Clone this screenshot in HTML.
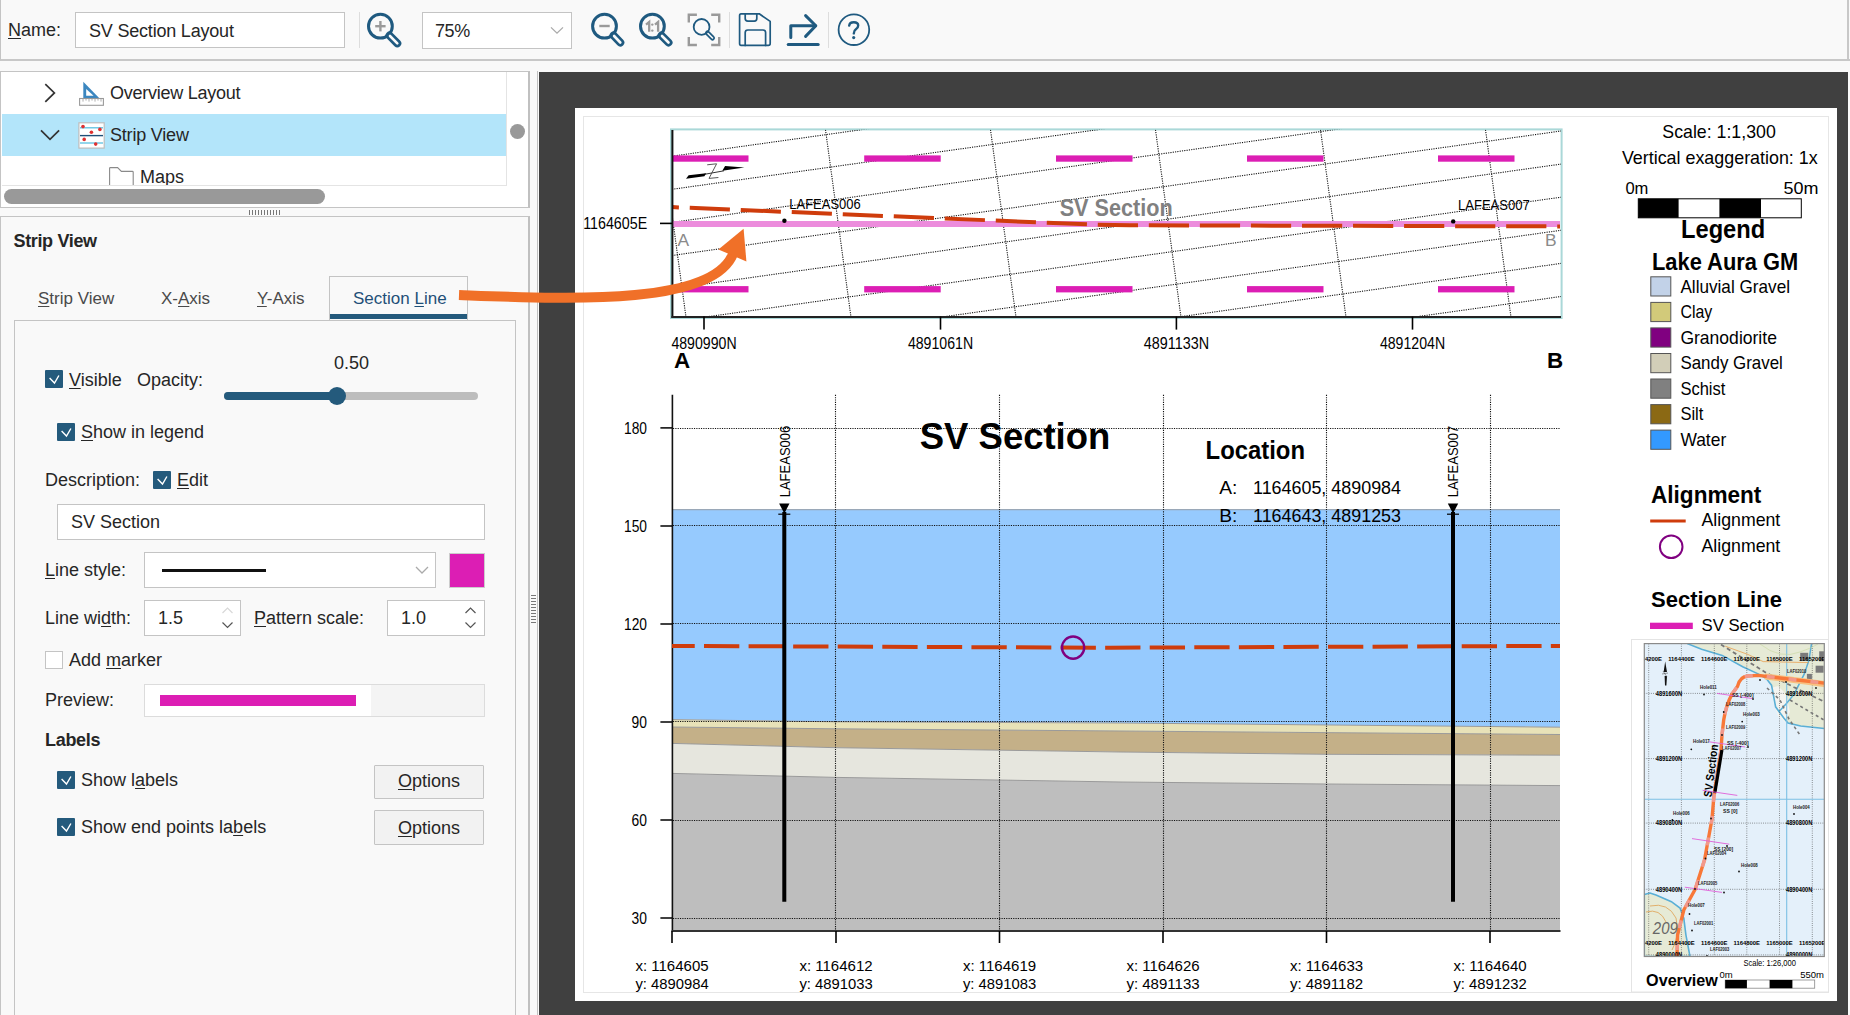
<!DOCTYPE html>
<html><head><meta charset="utf-8">
<style>
*{box-sizing:border-box;margin:0;padding:0}
html,body{width:1850px;height:1015px;overflow:hidden;background:#f9f9f9;font-family:"Liberation Sans",sans-serif;color:#262626}
.a{position:absolute}
.t{position:absolute;white-space:nowrap;font-size:18px;line-height:20px}
.u{text-decoration:underline;text-underline-offset:2px;text-decoration-thickness:1px}
.cb{position:absolute;width:18px;height:18px;background:#245a7c;border-radius:1px}
.cb svg{position:absolute;left:0;top:0}
.inp{position:absolute;background:#fff;border:1px solid #c4c4c4}
.btn{position:absolute;background:#f2f2f2;border:1px solid #c4c4c4;border-radius:1px}
</style></head><body>

<!-- toolbar -->
<div class="a" style="left:0;top:0;width:1850px;height:61px;background:#f9f9f9;border-left:1px solid #c4c4c4;border-bottom:2px solid #c8c8c8"></div>
<div class="a" style="left:1847px;top:0;width:2px;height:61px;background:#c8c8c8"></div>
<div class="t" style="left:8px;top:20px"><span class="u">N</span>ame:</div>
<div class="inp" style="left:75px;top:12px;width:270px;height:36px"></div>
<div class="t" style="left:89px;top:20.5px;letter-spacing:-0.2px">SV Section Layout</div>
<div class="a" style="left:359px;top:12px;width:1px;height:36px;background:#ddd"></div>
<div class="inp" style="left:422px;top:12px;width:150px;height:37px"></div>
<div class="t" style="left:435px;top:21px;letter-spacing:-0.4px">75%</div>
<div class="a" style="left:729px;top:12px;width:1px;height:36px;background:#ddd"></div>
<div class="a" style="left:828px;top:12px;width:1px;height:36px;background:#ddd"></div>


<svg class="a" style="left:0;top:0" width="900" height="60" viewBox="0 0 900 60">
 <g fill="none" stroke="#1f5a80" stroke-linecap="round">
  <!-- zoom in -->
  <circle cx="380.4" cy="26.2" r="11.9" stroke-width="3"/>
  <line x1="389.5" y1="35.5" x2="397.3" y2="43.3" stroke-width="8"/>
  <line x1="390" y1="36" x2="397.3" y2="43.3" stroke="#f9f9f9" stroke-width="2.6"/>
  <!-- zoom out -->
  <circle cx="604.5" cy="26.2" r="11.9" stroke-width="3"/>
  <line x1="613.6" y1="35.5" x2="620.3" y2="42.5" stroke-width="8"/>
  <line x1="614.1" y1="36" x2="620.3" y2="42.5" stroke="#f9f9f9" stroke-width="2.6"/>
  <!-- 1:1 -->
  <circle cx="652.4" cy="26.2" r="11.9" stroke-width="3"/>
  <line x1="661.5" y1="35.5" x2="668.5" y2="42.5" stroke-width="8"/>
  <line x1="662" y1="36" x2="668.5" y2="42.5" stroke="#f9f9f9" stroke-width="2.6"/>
  <!-- fit -->
  <circle cx="701.6" cy="26.9" r="7.9" stroke-width="1.8"/>
  <line x1="707.5" y1="33" x2="712.5" y2="38" stroke-width="5"/>
  <line x1="708" y1="33.5" x2="712.5" y2="38" stroke="#f9f9f9" stroke-width="1.6"/>
  <!-- save -->
  <path d="M741 13.8 H759.2 L770.2 21.4 V43.6 Q770.2 45.4 768.4 45.4 H741 Q739.6 45.4 739.6 43.6 V15.6 Q739.6 13.8 741 13.8 Z" stroke-width="1.7" stroke-linejoin="round"/>
  <path d="M745.2 13.8 V18.6 Q745.2 21.2 747.8 21.2 H754.4 Q756.8 21.2 756.8 18.6 V13.8" stroke-width="1.7"/>
  <path d="M745.2 45.4 V32.6 Q745.2 30 747.8 30 H763 Q765.6 30 765.6 32.6 V45.4" stroke-width="1.7"/>
  <!-- export -->
  <path d="M790.8 37.6 V25.8 H815.5" stroke-width="3" stroke-linejoin="round"/>
  <path d="M805.6 15.6 L815.8 25.8 L805.6 36.4" stroke-width="3" stroke-linejoin="round"/>
  <line x1="788.2" y1="44.5" x2="818.2" y2="44.5" stroke-width="3"/>
  <!-- help -->
  <circle cx="853.9" cy="29.7" r="15.3" stroke-width="1.8"/>
  <path d="M849.2 25.6 Q849.6 22.2 853.8 22.2 Q858.2 22.2 858.2 25.6 Q858.2 27.8 855.9 29.2 Q853.8 30.6 853.8 33.4" stroke-width="2.4"/>
  <circle cx="853.7" cy="37.6" r="1.6" fill="#1f5a80" stroke="none"/>
 </g>
 <g stroke="#9a9a9a" fill="none" stroke-width="2.4">
  <line x1="375.2" y1="26.2" x2="385.6" y2="26.2"/>
  <line x1="380.4" y1="21" x2="380.4" y2="31.4"/>
  <line x1="599.3" y1="26" x2="609.7" y2="26"/>
  <path d="M688.8 22.4 V14.8 H696.9 M711.2 14.8 H719.2 V22.4 M719.2 37 V45 H711.2 M696.9 45 H688.8 V37"/>
  <path d="M551 27.4 L557 33.2 L563 27.4" stroke="#aaa" stroke-width="1.3"/>
 </g>
 <path d="M646 24.6 L649.2 22 V31.8 M655 24.6 L658.1 22 V31.8" fill="none" stroke="#9a9a9a" stroke-width="2.3" stroke-linejoin="miter"/><circle cx="652.3" cy="24.6" r="1.2" fill="#9a9a9a"/><circle cx="652.3" cy="30.6" r="1.2" fill="#9a9a9a"/>
</svg>

<!-- tree panel -->
<div class="a" style="left:0;top:71px;width:530px;height:137px;background:#fff;border:1px solid #c4c4c4;border-right:2px solid #c0c0c0"></div>
<div class="a" style="left:2px;top:114px;width:504px;height:42px;background:#b3e5fa"></div>
<div class="a" style="left:506px;top:72px;width:1px;height:113px;background:#e4e4e4"></div>
<div class="a" style="left:2px;top:185px;width:505px;height:1px;background:#e4e4e4"></div>
<div class="a" style="left:510px;top:124px;width:15px;height:15px;border-radius:50%;background:#999"></div>
<div class="a" style="left:4px;top:189px;width:321px;height:15px;border-radius:8px;background:#999"></div>
<div class="t" style="left:110px;top:83px;letter-spacing:-0.25px">Overview Layout</div>
<div class="t" style="left:110px;top:125px;letter-spacing:-0.2px">Strip View</div>
<div class="t" style="left:140px;top:167px;height:18px;overflow:hidden">Maps</div>


<svg class="a" style="left:0;top:70px" width="140" height="120" viewBox="0 70 140 120">
 <path d="M45.3 84.1 L54.4 92.9 L45.3 101.9" fill="none" stroke="#333" stroke-width="1.7"/>
 <path d="M41 130.3 L50 139.4 L59.1 130.3" fill="none" stroke="#333" stroke-width="1.7"/>
 <path d="M83.3 81.8 L99.6 98.4 L83.3 98.4 Z" fill="#3b86bf"/>
 <path d="M86.2 89 L93.6 95.8 L86.2 95.8 Z" fill="#fff"/>
 <rect x="79.6" y="98.5" width="23.8" height="6.8" fill="#fff" stroke="#9a9a9a" stroke-width="1.1"/>
 <path d="M83 98.6 V101.6 M86 98.6 V100.6 M89 98.6 V101.6 M92 98.6 V100.6 M95 98.6 V101.6 M98 98.6 V100.6 M101 98.6 V101.6" stroke="#9a9a9a" stroke-width="0.8"/>
 <rect x="78.9" y="122.8" width="25.3" height="25.3" fill="#fff" stroke="#bdbdbd" stroke-width="1.2"/>
 <line x1="80" y1="127.8" x2="103" y2="127.8" stroke="#5bc0e0" stroke-width="1.3"/>
 <line x1="80" y1="135.6" x2="103" y2="135.6" stroke="#1f4f78" stroke-width="1.4"/>
 <line x1="80" y1="143" x2="103" y2="143" stroke="#5bc0e0" stroke-width="1.3"/>
 <g fill="#e03030"><circle cx="83" cy="126.6" r="1.8"/><circle cx="99.9" cy="129.4" r="1.8"/><circle cx="91.4" cy="132.2" r="1.8"/><circle cx="84.2" cy="139.4" r="1.8"/><circle cx="95.7" cy="144.1" r="1.8"/></g>
 <path d="M109.6 185 V168.3 Q109.6 167.6 110.3 167.6 H117.6 L121.4 171.4 H132.4 Q133.2 171.4 133.2 172.2 V185" fill="none" stroke="#8a8a8a" stroke-width="1.1"/>
</svg>
<div class="a" style="left:249px;top:210px;width:32px;height:5px;background:repeating-linear-gradient(90deg,#777 0 1px,transparent 1px 3px)"></div>

<!-- properties panel -->
<div class="a" style="left:0;top:216px;width:530px;height:810px;border:1px solid #c4c4c4;border-right:2px solid #c0c0c0"></div>
<div class="a" style="left:537px;top:71px;width:1px;height:944px;background:#c0c0c0"></div>
<div class="t" style="left:13.5px;top:231px;font-weight:bold;letter-spacing:-0.35px">Strip View</div>
<div class="a" style="left:14px;top:320px;width:502px;height:710px;border:1px solid #c4c4c4"></div>


<!-- tabs -->
<div class="a" style="left:329px;top:276px;width:139px;height:44px;border:1px solid #c4c4c4;border-bottom:none;background:#f9f9f9"></div>
<div class="a" style="left:330px;top:314px;width:137px;height:5px;background:#245a7c"></div>
<div class="t" style="left:38px;top:288.5px;color:#4a4a4a;font-size:17px"><span class="u">S</span>trip View</div>
<div class="t" style="left:161px;top:288.5px;color:#4a4a4a;font-size:17px">X-<span class="u">A</span>xis</div>
<div class="t" style="left:257px;top:288.5px;color:#4a4a4a;font-size:17px"><span class="u">Y</span>-Axis</div>
<div class="t" style="left:353px;top:288.5px;color:#1f5078;font-size:17px">Section <span class="u">L</span>ine</div>

<div class="t" style="left:334px;top:352.5px">0.50</div>
<div class="cb" style="left:45px;top:370px"><svg width="18" height="18"><path d="M4.6 7.9 L9.5 13 L13.9 5.5" fill="none" stroke="#fff" stroke-width="1.4"/></svg></div>
<div class="t" style="left:69px;top:369.5px"><span class="u">V</span>isible</div>
<div class="t" style="left:137px;top:369.5px">Opacity:</div>
<div class="a" style="left:224px;top:392px;width:254px;height:8px;border-radius:4px;background:#bdbdbd"></div>
<div class="a" style="left:224px;top:392px;width:114px;height:8px;border-radius:4px;background:#245a7c"></div>
<div class="a" style="left:328px;top:387px;width:18px;height:18px;border-radius:50%;background:#245a7c"></div>

<div class="cb" style="left:57px;top:423px"><svg width="18" height="18"><path d="M4.6 7.9 L9.5 13 L13.9 5.5" fill="none" stroke="#fff" stroke-width="1.4"/></svg></div>
<div class="t" style="left:81px;top:421.5px"><span class="u">S</span>how in legend</div>

<div class="t" style="left:45px;top:469.5px">Description:</div>
<div class="cb" style="left:153px;top:471px"><svg width="18" height="18"><path d="M4.6 7.9 L9.5 13 L13.9 5.5" fill="none" stroke="#fff" stroke-width="1.4"/></svg></div>
<div class="t" style="left:177px;top:469.5px"><span class="u">E</span>dit</div>
<div class="inp" style="left:57px;top:504px;width:428px;height:36px"></div>
<div class="t" style="left:71px;top:511.5px">SV Section</div>

<div class="t" style="left:45px;top:559.5px"><span class="u">L</span>ine style:</div>
<div class="inp" style="left:144px;top:552px;width:292px;height:36px"></div>
<div class="a" style="left:162px;top:569px;width:104px;height:3px;background:#111"></div>
<svg class="a" style="left:410px;top:560px" width="24" height="20"><path d="M6 7 L12 13 L18 7" fill="none" stroke="#aaa" stroke-width="1.3"/></svg>
<div class="a" style="left:449px;top:553px;width:36px;height:35px;background:#dc1eb4;border:1px solid #ccc"></div>

<div class="t" style="left:45px;top:607.5px">Line wi<span class="u">d</span>th:</div>
<div class="inp" style="left:144px;top:600px;width:97px;height:36px"></div>
<div class="t" style="left:158px;top:607.5px">1.5</div>
<svg class="a" style="left:218px;top:603px" width="20" height="30"><path d="M4.5 10 L9.5 5 L14.5 10" fill="none" stroke="#d8d8d8" stroke-width="1.2"/><path d="M4.5 19.5 L9.5 24.5 L14.5 19.5" fill="none" stroke="#555" stroke-width="1.2"/></svg>
<div class="t" style="left:254px;top:607.5px"><span class="u">P</span>attern scale:</div>
<div class="inp" style="left:387px;top:600px;width:98px;height:36px"></div>
<div class="t" style="left:401px;top:607.5px">1.0</div>
<svg class="a" style="left:461px;top:603px" width="20" height="30"><path d="M4.5 10 L9.5 5 L14.5 10" fill="none" stroke="#555" stroke-width="1.2"/><path d="M4.5 19.5 L9.5 24.5 L14.5 19.5" fill="none" stroke="#555" stroke-width="1.2"/></svg>

<div class="a" style="left:45px;top:651px;width:18px;height:18px;background:#fff;border:1px solid #c4c4c4"></div>
<div class="t" style="left:69px;top:649.5px">Add <span class="u">m</span>arker</div>

<div class="t" style="left:45px;top:689.5px">Preview:</div>
<div class="a" style="left:144px;top:684px;width:341px;height:33px;background:#f4f4f4;border:1px solid #dcdcdc"></div>
<div class="a" style="left:145px;top:685px;width:226px;height:31px;background:#fff"></div>
<div class="a" style="left:160px;top:695px;width:196px;height:11px;background:#dc1eb4"></div>

<div class="t" style="left:45px;top:729.5px;font-weight:bold;letter-spacing:-0.3px">Labels</div>
<div class="cb" style="left:57px;top:771px"><svg width="18" height="18"><path d="M4.6 7.9 L9.5 13 L13.9 5.5" fill="none" stroke="#fff" stroke-width="1.4"/></svg></div>
<div class="t" style="left:81px;top:769.5px">Show l<span class="u">a</span>bels</div>
<div class="btn" style="left:374px;top:765px;width:110px;height:34px"></div>
<div class="t" style="left:398px;top:770.5px"><span class="u">O</span>ptions</div>
<div class="cb" style="left:57px;top:818px"><svg width="18" height="18"><path d="M4.6 7.9 L9.5 13 L13.9 5.5" fill="none" stroke="#fff" stroke-width="1.4"/></svg></div>
<div class="t" style="left:81px;top:816.5px">Show end points la<span class="u">b</span>els</div>
<div class="btn" style="left:374px;top:810px;width:110px;height:35px"></div>
<div class="t" style="left:398px;top:817.5px"><span class="u">O</span>ptions</div>
<div class="a" style="left:531px;top:595px;width:5px;height:30px;background:repeating-linear-gradient(180deg,#777 0 1px,transparent 1px 3px)"></div>

<!-- dark area -->
<div class="a" style="left:539px;top:72px;width:1309px;height:943px;background:#404040"></div>
<div class="a" style="left:575px;top:108px;width:1262px;height:893px;background:#fff"></div>
<div class="a" style="left:583px;top:116px;width:1246px;height:877px;border:1px solid #e6e6e6"></div>

<!--LAYOUT-->
<svg class="a" style="left:0;top:0" width="1850" height="1015" viewBox="0 0 1850 1015" font-family="Liberation Sans">
<defs><clipPath id="mapclip"><rect x="672" y="129.7" width="889" height="187"/></clipPath><clipPath id="secclip"><rect x="672" y="394" width="888" height="537"/></clipPath></defs>
<rect x="671" y="129.4" width="890.6" height="188.6" fill="#fff" stroke="#aad8d8" stroke-width="2"/>
<g clip-path="url(#mapclip)" fill="none" stroke="#111" stroke-width="1.1" stroke-dasharray="1.15 1.18">
<line x1="672" y1="156.2" x2="1561" y2="31.7"/>
<line x1="672" y1="189.3" x2="1561" y2="64.8"/>
<line x1="672" y1="222.4" x2="1561" y2="97.9"/>
<line x1="672" y1="255.5" x2="1561" y2="131.0"/>
<line x1="672" y1="288.6" x2="1561" y2="164.1"/>
<line x1="672" y1="321.7" x2="1561" y2="197.2"/>
<line x1="672" y1="354.8" x2="1561" y2="230.3"/>
<line x1="672" y1="387.9" x2="1561" y2="263.4"/>
<line x1="672" y1="421.0" x2="1561" y2="296.5"/>
<line x1="660.5" y1="129.7" x2="685.9" y2="316.6"/>
<line x1="825.5" y1="129.7" x2="850.9" y2="316.6"/>
<line x1="990.5" y1="129.7" x2="1015.9" y2="316.6"/>
<line x1="1155.5" y1="129.7" x2="1180.9" y2="316.6"/>
<line x1="1320.5" y1="129.7" x2="1345.9" y2="316.6"/>
<line x1="1485.5" y1="129.7" x2="1510.9" y2="316.6"/>
</g>
<rect x="672" y="155.4" width="76.5" height="6.3" fill="#dc1eb4"/>
<rect x="864.2" y="155.4" width="76.5" height="6.3" fill="#dc1eb4"/>
<rect x="1056" y="155.4" width="76.5" height="6.3" fill="#dc1eb4"/>
<rect x="1247" y="155.4" width="76.5" height="6.3" fill="#dc1eb4"/>
<rect x="1438" y="155.4" width="76.5" height="6.3" fill="#dc1eb4"/>
<rect x="672" y="286.1" width="76.5" height="6.3" fill="#dc1eb4"/>
<rect x="864.2" y="286.1" width="76.5" height="6.3" fill="#dc1eb4"/>
<rect x="1056" y="286.1" width="76.5" height="6.3" fill="#dc1eb4"/>
<rect x="1247" y="286.1" width="76.5" height="6.3" fill="#dc1eb4"/>
<rect x="1438" y="286.1" width="76.5" height="6.3" fill="#dc1eb4"/>
<rect x="672" y="221" width="888" height="6" fill="#ec8cdc"/>
<path d="M672 207.1 L1090 224.5 Q1110 225.2 1130 225.3 L1560 226.4" fill="none" stroke="#cf3c0c" stroke-width="4" stroke-dasharray="40.2 10.85" stroke-dashoffset="33.3"/>
<line x1="672.4" y1="130" x2="672.4" y2="318" stroke="#111" stroke-width="2"/>
<line x1="671.4" y1="317" x2="1561" y2="317" stroke="#222" stroke-width="2"/>
<circle cx="784.4" cy="220.8" r="2.2" fill="#000"/><circle cx="1453.2" cy="221.4" r="2.2" fill="#000"/>
<path d="M686 178.7 L688.6 175.3 L706.2 173.2 L704.4 176.2 Z" fill="#000"/>
<path d="M722.3 170.7 L725.1 165.9 L744.4 167.5 Z" fill="#000"/>
<path d="M704 174.4 L724 170.8" stroke="#000" stroke-width="0.8"/>
<path d="M707.2 164.8 L716.6 163.8 L709 178.4 L718.4 177.5" fill="none" stroke="#444" stroke-width="0.9"/>
<text x="789.3" y="209" font-size="15.5" textLength="71.4" lengthAdjust="spacingAndGlyphs">LAFEAS006</text>
<text x="1458" y="210.2" font-size="15.5" textLength="71.7" lengthAdjust="spacingAndGlyphs">LAFEAS007</text>
<text x="1059.7" y="215.8" font-size="23" font-weight="bold" fill="#808080" textLength="113" lengthAdjust="spacingAndGlyphs">SV Section</text>
<text x="677.6" y="245.8" font-size="17.4" fill="#8a8a8a">A</text>
<text x="1545" y="245.6" font-size="17.4" fill="#8a8a8a">B</text>
<line x1="660" y1="223.4" x2="672" y2="223.4" stroke="#000" stroke-width="1.6"/>
<text x="583.2" y="229.3" font-size="16.9" textLength="64" lengthAdjust="spacingAndGlyphs">1164605E</text>
<line x1="704" y1="316.6" x2="704" y2="329.6" stroke="#000" stroke-width="1.6"/>
<text x="704" y="348.8" font-size="16.7" textLength="65.2" lengthAdjust="spacingAndGlyphs" text-anchor="middle">4890990N</text>
<line x1="940.5" y1="316.6" x2="940.5" y2="329.6" stroke="#000" stroke-width="1.6"/>
<text x="940.5" y="348.8" font-size="16.7" textLength="65.2" lengthAdjust="spacingAndGlyphs" text-anchor="middle">4891061N</text>
<line x1="1176.4" y1="316.6" x2="1176.4" y2="329.6" stroke="#000" stroke-width="1.6"/>
<text x="1176.4" y="348.8" font-size="16.7" textLength="65.2" lengthAdjust="spacingAndGlyphs" text-anchor="middle">4891133N</text>
<line x1="1412.5" y1="316.6" x2="1412.5" y2="329.6" stroke="#000" stroke-width="1.6"/>
<text x="1412.5" y="348.8" font-size="16.7" textLength="65.2" lengthAdjust="spacingAndGlyphs" text-anchor="middle">4891204N</text>
<text x="674" y="368.4" font-size="22.4" font-weight="bold">A</text>
<text x="1547" y="368.4" font-size="22.4" font-weight="bold">B</text>
<polygon points="672,509.3 1560,509.3 1560,727.2 1120,723 836,721.8 672,719.6" fill="#96cafe"/>
<polygon points="672,719.6 836,721.8 1120,723 1560,727.2 1560,734.5 1120,731 836,728.8 672,727" fill="#e8e2b8"/>
<polygon points="672,727 836,728.8 1120,731 1560,734.5 1560,755.2 1326,754.3 1120,752 836,747.7 672,743.4" fill="#c4b088"/>
<polygon points="672,743.4 836,747.7 1120,752 1326,754.3 1560,755.2 1560,785.6 1326,784 1120,782 836,777.4 672,773.4" fill="#e6e6de"/>
<polygon points="672,773.4 836,777.4 1120,782 1326,784 1560,785.6 1560,931 672,931" fill="#bebebe"/>
<polyline points="672,719.6 836,721.8 1120,723 1560,727.2" fill="none" stroke="#9a9a9a" stroke-width="1"/>
<polyline points="672,727 836,728.8 1120,731 1560,734.5" fill="none" stroke="#9a9a9a" stroke-width="1"/>
<polyline points="672,743.4 836,747.7 1120,752 1326,754.3 1560,755.2" fill="none" stroke="#9a9a9a" stroke-width="1"/>
<polyline points="672,773.4 836,777.4 1120,782 1326,784 1560,785.6" fill="none" stroke="#9a9a9a" stroke-width="1"/>
<line x1="672" y1="509.6" x2="1560" y2="509.6" stroke="#9aa8b8" stroke-width="1.2"/>
<g fill="none" stroke="#111" stroke-width="1.1" stroke-dasharray="1.15 1.18">
<line x1="673" y1="428.5" x2="1560" y2="428.5"/>
<line x1="673" y1="525.5" x2="1560" y2="525.5"/>
<line x1="673" y1="623.5" x2="1560" y2="623.5"/>
<line x1="673" y1="721.5" x2="1560" y2="721.5"/>
<line x1="673" y1="820.5" x2="1560" y2="820.5"/>
<line x1="673" y1="918.5" x2="1560" y2="918.5"/>
<line x1="835.5" y1="394.8" x2="835.5" y2="931"/>
<line x1="999.5" y1="394.8" x2="999.5" y2="931"/>
<line x1="1163.5" y1="394.8" x2="1163.5" y2="931"/>
<line x1="1326.5" y1="394.8" x2="1326.5" y2="931"/>
<line x1="1490.5" y1="394.8" x2="1490.5" y2="931"/>
</g>
<line x1="672.4" y1="394.8" x2="672.4" y2="931" stroke="#111" stroke-width="1.6"/>
<line x1="671.6" y1="931" x2="1560.5" y2="931" stroke="#333" stroke-width="2"/>
<line x1="660.4" y1="427.9" x2="672" y2="427.9" stroke="#000" stroke-width="1.5"/>
<text x="647" y="434.2" font-size="16" textLength="23" lengthAdjust="spacingAndGlyphs" text-anchor="end">180</text>
<line x1="660.4" y1="526" x2="672" y2="526" stroke="#000" stroke-width="1.5"/>
<text x="647" y="532.3" font-size="16" textLength="23" lengthAdjust="spacingAndGlyphs" text-anchor="end">150</text>
<line x1="660.4" y1="624" x2="672" y2="624" stroke="#000" stroke-width="1.5"/>
<text x="647" y="630.3" font-size="16" textLength="23" lengthAdjust="spacingAndGlyphs" text-anchor="end">120</text>
<line x1="660.4" y1="722" x2="672" y2="722" stroke="#000" stroke-width="1.5"/>
<text x="647" y="728.3" font-size="16" textLength="15.4" lengthAdjust="spacingAndGlyphs" text-anchor="end">90</text>
<line x1="660.4" y1="820" x2="672" y2="820" stroke="#000" stroke-width="1.5"/>
<text x="647" y="826.3" font-size="16" textLength="15.4" lengthAdjust="spacingAndGlyphs" text-anchor="end">60</text>
<line x1="660.4" y1="918" x2="672" y2="918" stroke="#000" stroke-width="1.5"/>
<text x="647" y="924.3" font-size="16" textLength="15.4" lengthAdjust="spacingAndGlyphs" text-anchor="end">30</text>
<line x1="672" y1="931" x2="672" y2="943" stroke="#000" stroke-width="1.6"/>
<text x="635.4" y="971" font-size="15.3" textLength="73.3" lengthAdjust="spacingAndGlyphs">x: 1164605</text>
<text x="635.4" y="989.2" font-size="15.3" textLength="73.3" lengthAdjust="spacingAndGlyphs">y: 4890984</text>
<line x1="836" y1="931" x2="836" y2="943" stroke="#000" stroke-width="1.6"/>
<text x="799.4" y="971" font-size="15.3" textLength="73.3" lengthAdjust="spacingAndGlyphs">x: 1164612</text>
<text x="799.4" y="989.2" font-size="15.3" textLength="73.3" lengthAdjust="spacingAndGlyphs">y: 4891033</text>
<line x1="999.5" y1="931" x2="999.5" y2="943" stroke="#000" stroke-width="1.6"/>
<text x="962.9" y="971" font-size="15.3" textLength="73.3" lengthAdjust="spacingAndGlyphs">x: 1164619</text>
<text x="962.9" y="989.2" font-size="15.3" textLength="73.3" lengthAdjust="spacingAndGlyphs">y: 4891083</text>
<line x1="1163" y1="931" x2="1163" y2="943" stroke="#000" stroke-width="1.6"/>
<text x="1126.4" y="971" font-size="15.3" textLength="73.3" lengthAdjust="spacingAndGlyphs">x: 1164626</text>
<text x="1126.4" y="989.2" font-size="15.3" textLength="73.3" lengthAdjust="spacingAndGlyphs">y: 4891133</text>
<line x1="1326.5" y1="931" x2="1326.5" y2="943" stroke="#000" stroke-width="1.6"/>
<text x="1289.9" y="971" font-size="15.3" textLength="73.3" lengthAdjust="spacingAndGlyphs">x: 1164633</text>
<text x="1289.9" y="989.2" font-size="15.3" textLength="73.3" lengthAdjust="spacingAndGlyphs">y: 4891182</text>
<line x1="1490" y1="931" x2="1490" y2="943" stroke="#000" stroke-width="1.6"/>
<text x="1453.4" y="971" font-size="15.3" textLength="73.3" lengthAdjust="spacingAndGlyphs">x: 1164640</text>
<text x="1453.4" y="989.2" font-size="15.3" textLength="73.3" lengthAdjust="spacingAndGlyphs">y: 4891232</text>
<path d="M672 645.9 L1110 647.7 L1560 645.9" fill="none" stroke="#cf3c0c" stroke-width="4" stroke-dasharray="35.3 9.27" stroke-dashoffset="12.55"/>
<circle cx="1073.1" cy="647.6" r="11.1" fill="none" stroke="#800080" stroke-width="2.4"/>
<line x1="784.3" y1="512" x2="784.3" y2="901.8" stroke="#000" stroke-width="4"/>
<path d="M779.0999999999999 503.5 L789.5 503.5 L784.3 513.5 Z" fill="#000"/>
<line x1="778.3" y1="514.2" x2="790.3" y2="514.2" stroke="#000" stroke-width="1.2"/>
<text transform="translate(789.5,497.3) rotate(-90)" font-size="15.5" textLength="71.6" lengthAdjust="spacingAndGlyphs">LAFEAS006</text>
<line x1="1453" y1="512" x2="1453" y2="901.8" stroke="#000" stroke-width="4"/>
<path d="M1447.8 503.5 L1458.2 503.5 L1453 513.5 Z" fill="#000"/>
<line x1="1447" y1="514.2" x2="1459" y2="514.2" stroke="#000" stroke-width="1.2"/>
<text transform="translate(1458.2,497.3) rotate(-90)" font-size="15.5" textLength="71.6" lengthAdjust="spacingAndGlyphs">LAFEAS007</text>
<text x="919.8" y="448.7" font-size="37.8" font-weight="bold" textLength="190.5" lengthAdjust="spacingAndGlyphs">SV Section</text>
<text x="1205.6" y="458.8" font-size="26.6" font-weight="bold" textLength="99.4" lengthAdjust="spacingAndGlyphs">Location</text>
<text x="1219.2" y="494.1" font-size="19.2">A:</text>
<text x="1253" y="494.1" font-size="19.2" textLength="148" lengthAdjust="spacingAndGlyphs">1164605, 4890984</text>
<text x="1219.2" y="521.9" font-size="19.2">B:</text>
<text x="1253" y="521.9" font-size="19.2" textLength="148" lengthAdjust="spacingAndGlyphs">1164643, 4891253</text>
<text x="1662.3" y="138" font-size="18.2" textLength="113.5" lengthAdjust="spacingAndGlyphs">Scale: 1:1,300</text>
<text x="1621.9" y="164.3" font-size="18.2" textLength="195.8" lengthAdjust="spacingAndGlyphs">Vertical exaggeration: 1x</text>
<text x="1625.4" y="194" font-size="17" textLength="23" lengthAdjust="spacingAndGlyphs">0m</text>
<text x="1818.4" y="194" font-size="17" textLength="35" lengthAdjust="spacingAndGlyphs" text-anchor="end">50m</text>
<rect x="1638.3" y="198.8" width="163" height="19" fill="#fff" stroke="#000" stroke-width="1"/>
<rect x="1638.3" y="198.8" width="40.3" height="19" fill="#000"/><rect x="1719.4" y="198.8" width="41.6" height="19" fill="#000"/>
<text x="1681" y="238.3" font-size="25.7" font-weight="bold" textLength="84.2" lengthAdjust="spacingAndGlyphs">Legend</text>
<text x="1652" y="270.3" font-size="23.3" font-weight="bold" textLength="146.2" lengthAdjust="spacingAndGlyphs">Lake Aura GM</text>
<rect x="1650.8" y="276.8" width="20" height="19.2" fill="#c2d2e8" stroke="#555" stroke-width="1"/>
<text x="1680.4" y="292.7" font-size="18.2" textLength="109.6" lengthAdjust="spacingAndGlyphs">Alluvial Gravel</text>
<rect x="1650.8" y="302.4" width="20" height="19.2" fill="#d2ca7a" stroke="#555" stroke-width="1"/>
<text x="1680.4" y="318.2" font-size="18.2" textLength="31.9" lengthAdjust="spacingAndGlyphs">Clay</text>
<rect x="1650.8" y="327.9" width="20" height="19.2" fill="#800080" stroke="#555" stroke-width="1"/>
<text x="1680.4" y="343.8" font-size="18.2" textLength="96.5" lengthAdjust="spacingAndGlyphs">Granodiorite</text>
<rect x="1650.8" y="353.5" width="20" height="19.2" fill="#d2ceb8" stroke="#555" stroke-width="1"/>
<text x="1680.4" y="369.4" font-size="18.2" textLength="102.5" lengthAdjust="spacingAndGlyphs">Sandy Gravel</text>
<rect x="1650.8" y="379.0" width="20" height="19.2" fill="#808080" stroke="#555" stroke-width="1"/>
<text x="1680.4" y="394.9" font-size="18.2" textLength="45" lengthAdjust="spacingAndGlyphs">Schist</text>
<rect x="1650.8" y="404.6" width="20" height="19.2" fill="#8b6914" stroke="#555" stroke-width="1"/>
<text x="1680.4" y="420.4" font-size="18.2" textLength="23" lengthAdjust="spacingAndGlyphs">Silt</text>
<rect x="1650.8" y="430.1" width="20" height="19.2" fill="#3399ff" stroke="#555" stroke-width="1"/>
<text x="1680.4" y="446.0" font-size="18.2" textLength="45.8" lengthAdjust="spacingAndGlyphs">Water</text>
<text x="1651" y="503.3" font-size="23.5" font-weight="bold" textLength="110.4" lengthAdjust="spacingAndGlyphs">Alignment</text>
<line x1="1650.2" y1="521" x2="1685.7" y2="521" stroke="#cf3c0c" stroke-width="3"/>
<text x="1701.5" y="525.7" font-size="17.9" textLength="78.8" lengthAdjust="spacingAndGlyphs">Alignment</text>
<circle cx="1671.2" cy="546.7" r="11.3" fill="none" stroke="#800080" stroke-width="2"/>
<text x="1701.5" y="552" font-size="17.9" textLength="78.8" lengthAdjust="spacingAndGlyphs">Alignment</text>
<text x="1651" y="606.9" font-size="22.3" font-weight="bold" textLength="130.9" lengthAdjust="spacingAndGlyphs">Section Line</text>
<rect x="1650" y="622.7" width="42.8" height="6.3" fill="#dc1eb4"/>
<text x="1701.5" y="630.5" font-size="17.2" textLength="82.7" lengthAdjust="spacingAndGlyphs">SV Section</text>
<rect x="1631.5" y="639.5" width="197" height="352.5" fill="#fff" stroke="#e4e4e4" stroke-width="1"/>
<clipPath id="mmclip"><rect x="1644.3" y="643.6" width="180.0" height="312.9"/></clipPath>
<rect x="1644.3" y="643.6" width="180.0" height="312.9" fill="#e4f0fa"/>
<g clip-path="url(#mmclip)">
<path d="M1687.2 643.6 L1701.6 649.2 L1722.2 655.4 L1742.7 666.7 L1758.1 673.9 L1766.3 678.5 L1771.5 685.2 L1773.5 695.5 L1775.6 706.8 L1783.8 718 L1788 723 L1800.7 726 L1824.3 728.5 L1824.3 643.6 Z" fill="#e6ead6"/>
<path d="M1771 688 L1778 686 L1786 694 L1790 712 L1785 722 L1778 716 L1774 704 Z" fill="#f4f4f0"/>
<path d="M1687.2 643.6 L1701.6 649.2 L1722.2 655.4 L1742.7 666.7 L1758.1 673.9 L1766.3 678.5 L1771.5 685.2 L1773.5 695.5 L1775.6 706.8 L1783.8 718 L1788 723 L1800.7 726 L1824.3 728.5" fill="none" stroke="#5aafd6" stroke-width="1.6"/>
<path d="M1811.5 643.6 L1809 660 L1804.3 673.9 L1794 694.4 L1786 704 L1778.6 711.9" fill="none" stroke="#5aafd6" stroke-width="1.5"/>
<path d="M1644.3 894.5 L1650 893 L1656 895 L1671.4 901.7 L1680 908 L1683.8 918.3 L1685.9 934.8 L1688 946 L1690 956.5 L1644.3 956.5 Z" fill="#e6ead6" stroke="#5aafd6" stroke-width="1.6"/>
<path d="M1650 906 Q1668 902 1676 918 Q1680 936 1672 950" fill="none" stroke="#e0a860" stroke-width="0.9"/>
<path d="M1646 912 Q1660 908 1666 922" fill="none" stroke="#e0a860" stroke-width="0.9"/>
<g fill="none" stroke="#444" stroke-width="0.7" stroke-dasharray="0.8 1.4">
<line x1="1648.7" y1="643.6" x2="1648.7" y2="956.5"/>
<line x1="1681.4" y1="643.6" x2="1681.4" y2="956.5"/>
<line x1="1714.3" y1="643.6" x2="1714.3" y2="956.5"/>
<line x1="1746.8" y1="643.6" x2="1746.8" y2="956.5"/>
<line x1="1779.5" y1="643.6" x2="1779.5" y2="956.5"/>
<line x1="1812.3" y1="643.6" x2="1812.3" y2="956.5"/>
<line x1="1644.3" y1="693.4" x2="1824.3" y2="693.4"/>
<line x1="1644.3" y1="758.6" x2="1824.3" y2="758.6"/>
<line x1="1644.3" y1="823.1" x2="1824.3" y2="823.1"/>
<line x1="1644.3" y1="889.3" x2="1824.3" y2="889.3"/>
<line x1="1644.3" y1="954.9" x2="1824.3" y2="954.9"/>
</g>
<line x1="1786.7" y1="643.6" x2="1786.7" y2="956.5" stroke="#7cc0e4" stroke-width="1.1"/>
<line x1="1644.3" y1="799.3" x2="1824.3" y2="799.3" stroke="#7cc0e4" stroke-width="1.1"/>
<path d="M1721 644.6 L1766.3 672.9 L1794 687.2 L1824 701.6" fill="none" stroke="#777" stroke-width="1.8" stroke-dasharray="4 3"/>
<path d="M1767 688 L1780 700 L1789 719 L1800 735 M1790 700 L1810 712 L1824 720" fill="none" stroke="#777" stroke-width="1.6" stroke-dasharray="3 3"/>
<path d="M1725.2 646.2 L1747.8 654.4 L1763.2 661.6 L1808.4 662.6" fill="none" stroke="#e8a050" stroke-width="0.8"/>
<path d="M1760 644 Q1780 660 1800 652 Q1812 648 1818 644" fill="none" stroke="#c8d8a0" stroke-width="0.6"/>
<rect x="1800.2" y="652.8" width="8" height="8" fill="#7a7a7a"/>
<rect x="1819.2" y="651.3" width="6" height="10" fill="#7a7a7a"/>
<rect x="1815.6" y="665.7" width="8" height="7" fill="#7a7a7a"/>
<rect x="1806.9" y="673.9" width="5" height="6" fill="#7a7a7a"/>
<path d="M1824.3 684 L1790 679.5 L1765 676.5" fill="none" stroke="#f8c080" stroke-width="6"/>
<path d="M1824.3 683.1 L1783.8 678.5 L1758.1 675.4 L1747.8 676 Q1740 676.5 1737.6 686.2 L1732.4 693.4 Q1726 705 1723.7 720 L1722 735 L1721 750 L1717 775 L1714 795 L1712 819 L1704.5 860 L1695.2 889.3 L1683.8 910 L1677.6 934.8 L1677 956.5" fill="none" stroke="#f87838" stroke-width="3.4" stroke-linejoin="round"/>
<path d="M1824.3 683.1 L1783.8 678.5 L1758.1 675.4 L1747.8 676 Q1740 676.5 1737.6 686.2 L1732.4 693.4 Q1726 705 1723.7 720 L1722 735 L1721 750 L1717 775 L1714 795 L1712 819 L1704.5 860 L1695.2 889.3 L1683.8 910 L1677.6 934.8 L1677 956.5" fill="none" stroke="#f0a0a0" stroke-width="3.4" stroke-dasharray="8 14" stroke-dashoffset="60" opacity="0.8"/>
<line x1="1721.9" y1="750.1" x2="1714.8" y2="793.1" stroke="#000" stroke-width="3.2"/>
<text transform="translate(1711.6,797.5) rotate(-82.9)" font-size="11.5" font-weight="bold" textLength="53" lengthAdjust="spacingAndGlyphs">SV Section</text>
<line x1="1717" y1="693.4" x2="1752" y2="698.5" stroke="#e060d8" stroke-width="0.9"/>
<line x1="1709" y1="741.8" x2="1745.2" y2="747" stroke="#e060d8" stroke-width="0.9"/>
<line x1="1702.6" y1="790.3" x2="1737.3" y2="795.4" stroke="#e060d8" stroke-width="0.9"/>
<line x1="1692" y1="838.6" x2="1729.3" y2="844.2" stroke="#e060d8" stroke-width="0.9"/>
<line x1="1684.8" y1="887.2" x2="1722" y2="892.4" stroke="#e060d8" stroke-width="0.9"/>
<circle cx="1704" cy="694.5" r="0.9" fill="#111"/>
<circle cx="1723.7" cy="712" r="0.9" fill="#111"/>
<circle cx="1722" cy="735" r="0.9" fill="#111"/>
<circle cx="1712" cy="755.5" r="0.9" fill="#111"/>
<circle cx="1760" cy="680" r="0.9" fill="#111"/>
<circle cx="1786" cy="682" r="0.9" fill="#111"/>
<circle cx="1816" cy="688" r="0.9" fill="#111"/>
<circle cx="1742.2" cy="721.6" r="0.9" fill="#111"/>
<circle cx="1691.3" cy="749.3" r="0.9" fill="#111"/>
<circle cx="1748" cy="747" r="0.9" fill="#111"/>
<circle cx="1753" cy="699" r="0.9" fill="#111"/>
<circle cx="1711" cy="818.5" r="0.9" fill="#111"/>
<circle cx="1672.4" cy="820" r="0.9" fill="#111"/>
<circle cx="1794" cy="814" r="0.9" fill="#111"/>
<circle cx="1727" cy="846" r="0.9" fill="#111"/>
<circle cx="1705.5" cy="858.5" r="0.9" fill="#111"/>
<circle cx="1739" cy="871.5" r="0.9" fill="#111"/>
<circle cx="1695" cy="889" r="0.9" fill="#111"/>
<circle cx="1724" cy="892.5" r="0.9" fill="#111"/>
<circle cx="1689.5" cy="914" r="0.9" fill="#111"/>
<circle cx="1692" cy="930.5" r="0.9" fill="#111"/>
<circle cx="1707" cy="956" r="0.9" fill="#111"/>
<text x="1700" y="688.5" font-size="5" font-weight="bold" fill="#222" textLength="16.8" lengthAdjust="spacingAndGlyphs">Hole011</text>
<text x="1732" y="697" font-size="5" font-weight="bold" fill="#222" textLength="21.6" lengthAdjust="spacingAndGlyphs">SS [-400]</text>
<text x="1726" y="706" font-size="5" font-weight="bold" fill="#222" textLength="19.2" lengthAdjust="spacingAndGlyphs">LAF02008</text>
<text x="1743" y="716" font-size="5" font-weight="bold" fill="#222" textLength="16.8" lengthAdjust="spacingAndGlyphs">Hole003</text>
<text x="1726" y="729" font-size="5" font-weight="bold" fill="#222" textLength="19.2" lengthAdjust="spacingAndGlyphs">LAF02009</text>
<text x="1727" y="745" font-size="5" font-weight="bold" fill="#222" textLength="21.6" lengthAdjust="spacingAndGlyphs">SS [-400]</text>
<text x="1722" y="750" font-size="5" font-weight="bold" fill="#222" textLength="19.2" lengthAdjust="spacingAndGlyphs">LAF02007</text>
<text x="1693" y="743" font-size="5" font-weight="bold" fill="#222" textLength="16.8" lengthAdjust="spacingAndGlyphs">Hole017</text>
<text x="1787" y="673" font-size="5" font-weight="bold" fill="#222" textLength="19.2" lengthAdjust="spacingAndGlyphs">LAF02010</text>
<text x="1720" y="805.5" font-size="5" font-weight="bold" fill="#222" textLength="19.2" lengthAdjust="spacingAndGlyphs">LAF02006</text>
<text x="1723" y="812.5" font-size="5" font-weight="bold" fill="#222" textLength="14.4" lengthAdjust="spacingAndGlyphs">SS [0]</text>
<text x="1673" y="815" font-size="5" font-weight="bold" fill="#222" textLength="16.8" lengthAdjust="spacingAndGlyphs">Hole006</text>
<text x="1793" y="809" font-size="5" font-weight="bold" fill="#222" textLength="16.8" lengthAdjust="spacingAndGlyphs">Hole004</text>
<text x="1714" y="851" font-size="5" font-weight="bold" fill="#222" textLength="19.2" lengthAdjust="spacingAndGlyphs">SS [200]</text>
<text x="1707" y="855" font-size="5" font-weight="bold" fill="#222" textLength="19.2" lengthAdjust="spacingAndGlyphs">LAF02004</text>
<text x="1741" y="867" font-size="5" font-weight="bold" fill="#222" textLength="16.8" lengthAdjust="spacingAndGlyphs">Hole008</text>
<text x="1698" y="884.5" font-size="5" font-weight="bold" fill="#222" textLength="19.2" lengthAdjust="spacingAndGlyphs">LAF02005</text>
<text x="1688" y="907" font-size="5" font-weight="bold" fill="#222" textLength="16.8" lengthAdjust="spacingAndGlyphs">Hole007</text>
<text x="1694" y="925" font-size="5" font-weight="bold" fill="#222" textLength="19.2" lengthAdjust="spacingAndGlyphs">LAF02001</text>
<text x="1710" y="951" font-size="5" font-weight="bold" fill="#222" textLength="19.2" lengthAdjust="spacingAndGlyphs">LAF02003</text>
<text x="1648.7" y="660.8" font-size="6" font-weight="bold" text-anchor="middle" fill="#000" textLength="26.5" lengthAdjust="spacingAndGlyphs">1164200E</text>
<text x="1648.7" y="945.3" font-size="6" font-weight="bold" text-anchor="middle" fill="#000" textLength="26.5" lengthAdjust="spacingAndGlyphs">1164200E</text>
<text x="1681.4" y="660.8" font-size="6" font-weight="bold" text-anchor="middle" fill="#000" textLength="26.5" lengthAdjust="spacingAndGlyphs">1164400E</text>
<text x="1681.4" y="945.3" font-size="6" font-weight="bold" text-anchor="middle" fill="#000" textLength="26.5" lengthAdjust="spacingAndGlyphs">1164400E</text>
<text x="1714.3" y="660.8" font-size="6" font-weight="bold" text-anchor="middle" fill="#000" textLength="26.5" lengthAdjust="spacingAndGlyphs">1164600E</text>
<text x="1714.3" y="945.3" font-size="6" font-weight="bold" text-anchor="middle" fill="#000" textLength="26.5" lengthAdjust="spacingAndGlyphs">1164600E</text>
<text x="1746.8" y="660.8" font-size="6" font-weight="bold" text-anchor="middle" fill="#000" textLength="26.5" lengthAdjust="spacingAndGlyphs">1164800E</text>
<text x="1746.8" y="945.3" font-size="6" font-weight="bold" text-anchor="middle" fill="#000" textLength="26.5" lengthAdjust="spacingAndGlyphs">1164800E</text>
<text x="1779.5" y="660.8" font-size="6" font-weight="bold" text-anchor="middle" fill="#000" textLength="26.5" lengthAdjust="spacingAndGlyphs">1165000E</text>
<text x="1779.5" y="945.3" font-size="6" font-weight="bold" text-anchor="middle" fill="#000" textLength="26.5" lengthAdjust="spacingAndGlyphs">1165000E</text>
<text x="1812.3" y="660.8" font-size="6" font-weight="bold" text-anchor="middle" fill="#000" textLength="26.5" lengthAdjust="spacingAndGlyphs">1165200E</text>
<text x="1812.3" y="945.3" font-size="6" font-weight="bold" text-anchor="middle" fill="#000" textLength="26.5" lengthAdjust="spacingAndGlyphs">1165200E</text>
<text x="1669" y="695.6999999999999" font-size="6.5" font-weight="bold" text-anchor="middle" fill="#000" textLength="26.5" lengthAdjust="spacingAndGlyphs">4891600N</text>
<text x="1799.2" y="695.6999999999999" font-size="6.5" font-weight="bold" text-anchor="middle" fill="#000" textLength="26.5" lengthAdjust="spacingAndGlyphs">4891600N</text>
<text x="1669" y="760.9" font-size="6.5" font-weight="bold" text-anchor="middle" fill="#000" textLength="26.5" lengthAdjust="spacingAndGlyphs">4891200N</text>
<text x="1799.2" y="760.9" font-size="6.5" font-weight="bold" text-anchor="middle" fill="#000" textLength="26.5" lengthAdjust="spacingAndGlyphs">4891200N</text>
<text x="1669" y="825.4" font-size="6.5" font-weight="bold" text-anchor="middle" fill="#000" textLength="26.5" lengthAdjust="spacingAndGlyphs">4890800N</text>
<text x="1799.2" y="825.4" font-size="6.5" font-weight="bold" text-anchor="middle" fill="#000" textLength="26.5" lengthAdjust="spacingAndGlyphs">4890800N</text>
<text x="1669" y="891.5999999999999" font-size="6.5" font-weight="bold" text-anchor="middle" fill="#000" textLength="26.5" lengthAdjust="spacingAndGlyphs">4890400N</text>
<text x="1799.2" y="891.5999999999999" font-size="6.5" font-weight="bold" text-anchor="middle" fill="#000" textLength="26.5" lengthAdjust="spacingAndGlyphs">4890400N</text>
<text x="1669" y="957.1999999999999" font-size="6.5" font-weight="bold" text-anchor="middle" fill="#000" textLength="26.5" lengthAdjust="spacingAndGlyphs">4890000N</text>
<text x="1799.2" y="957.1999999999999" font-size="6.5" font-weight="bold" text-anchor="middle" fill="#000" textLength="26.5" lengthAdjust="spacingAndGlyphs">4890000N</text>
<text x="1652.8" y="933.8" font-size="17" font-style="italic" fill="#666" textLength="25" lengthAdjust="spacingAndGlyphs">209</text>
<path d="M1665.2 661.6 L1667 672 L1663.6 672 Z M1664.6 676 L1667 676 L1666.4 685.5 L1665 685.5 Z" fill="#111"/>
<path d="M1662 674 L1668 673 M1663 671 L1667 677" stroke="#555" stroke-width="0.6"/>
</g>
<rect x="1644.3" y="643.6" width="180.0" height="312.9" fill="none" stroke="#8a8a8a" stroke-width="1.2"/>
<text x="1743.4" y="966" font-size="9.6" textLength="52.6" lengthAdjust="spacingAndGlyphs">Scale: 1:26,000</text>
<text x="1646.1" y="986.1" font-size="16" font-weight="bold" textLength="71.8" lengthAdjust="spacingAndGlyphs">Overview</text>
<text x="1719.4" y="978" font-size="9.5">0m</text>
<text x="1824" y="978" font-size="9.5" text-anchor="end">550m</text>
<rect x="1725.2" y="980" width="89.5" height="8.2" fill="#fff" stroke="#888" stroke-width="0.8"/>
<rect x="1725.2" y="980" width="21.7" height="8.2" fill="#000"/><rect x="1769.6" y="980" width="22.8" height="8.2" fill="#000"/>
<path d="M459 295 C 570 299 712 306 733 254" fill="none" stroke="#f07028" stroke-width="10"/>
<path d="M743.6 228.7 L718.4 249.4 L746.4 261.4 Z" fill="#f07028"/>
</svg>
<!--/LAYOUT-->
</body></html>
